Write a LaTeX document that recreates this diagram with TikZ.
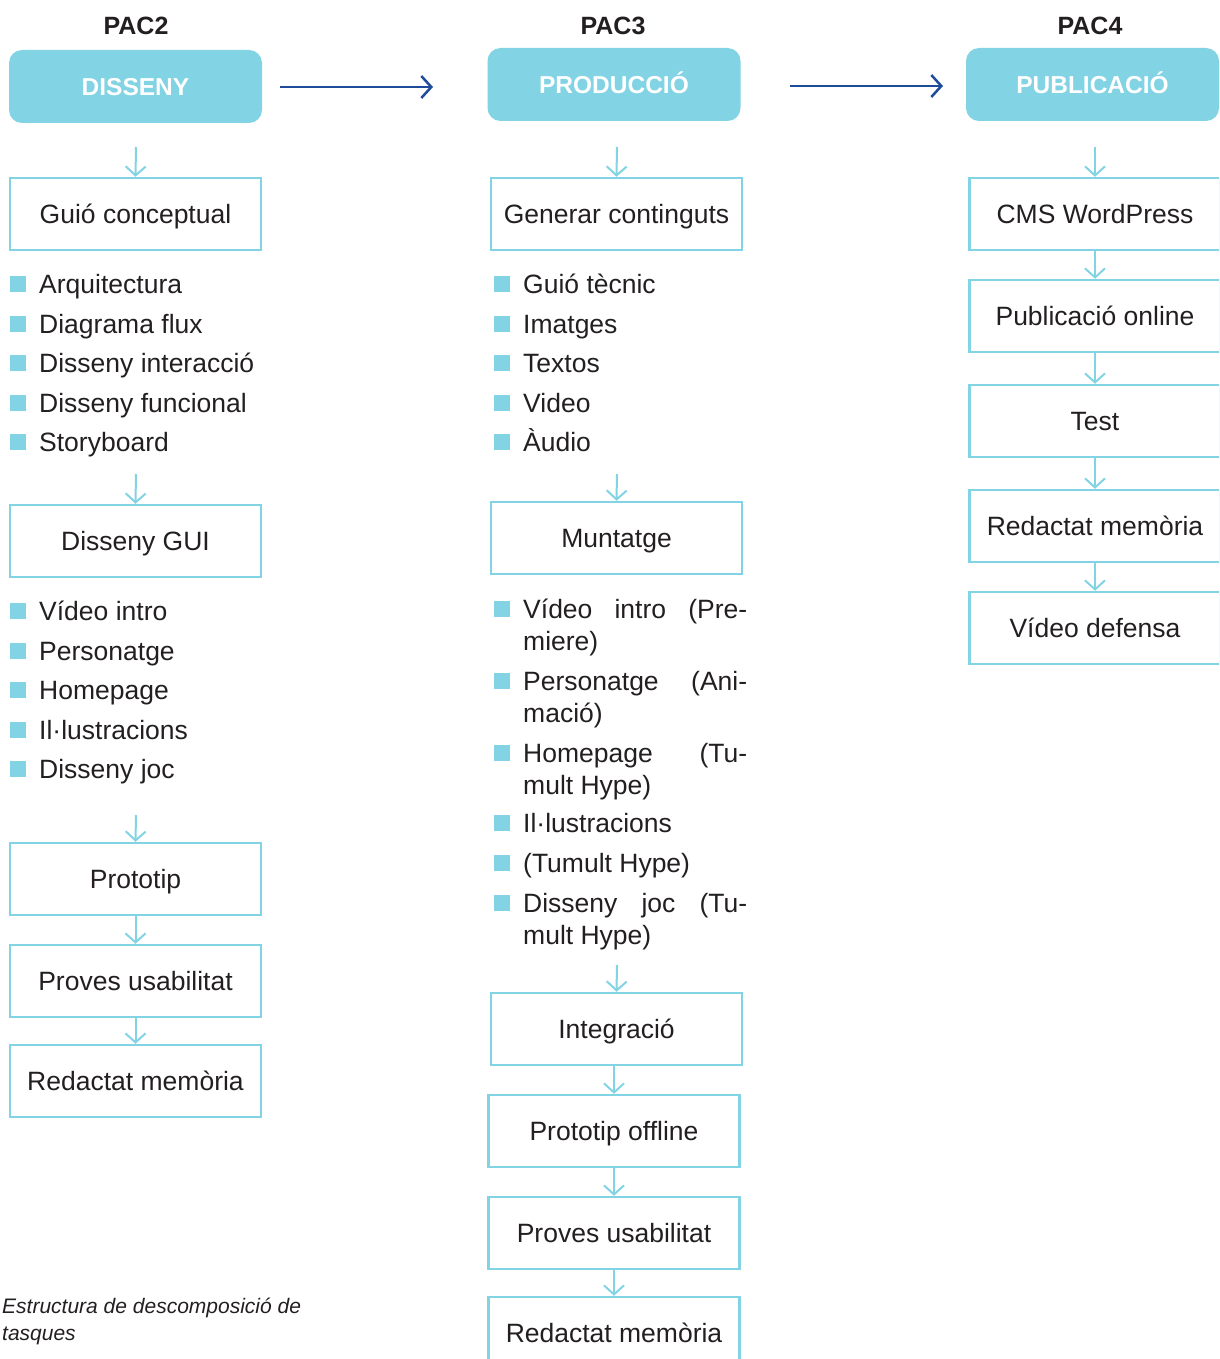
\documentclass[tikz,border=0pt]{standalone}
\usepackage{fontspec}
\setmainfont{Liberation Sans}
\usetikzlibrary{arrows.meta}
\definecolor{cy}{HTML}{82D3E3}
\definecolor{bl}{HTML}{1F4B9B}
\definecolor{tx}{HTML}{231F20}
\begin{document}
\begin{tikzpicture}[x=1pt,y=-1pt,
 title/.style={font=\fontsize{25}{30}\selectfont\bfseries, text=tx, inner sep=0pt, text height=18pt, text depth=0pt},
 phase/.style={fill=cy, rounded corners=13pt, minimum width=253pt, minimum height=73pt, text=white, font=\fontsize{24.5}{28}\selectfont\bfseries, inner sep=0pt, text height=17.5pt, text depth=0pt},
 task/.style={draw=cy, line width=2.5pt, minimum width=251pt, minimum height=72pt, text=tx, font=\fontsize{26.5}{30}\selectfont, inner sep=0pt, text height=19pt, text depth=0pt},
 flow/.style={draw=cy, line width=2pt, -{Straight Barb[length=9pt,width=20pt]}},
 big/.style={draw=bl, line width=2.5pt, -{Straight Barb[length=10pt,width=22pt]}},
 item/.style={anchor=west, text=tx, font=\fontsize{26.5}{30}\selectfont, inner sep=0pt, text height=19pt, text depth=0pt},
 bul/.style={fill=cy, minimum size=16pt, inner sep=0pt},
 captxt/.style={anchor=west, text=tx, font=\fontsize{21}{25}\selectfont\itshape, inner sep=0pt, text height=15pt, text depth=0pt},
]
\useasboundingbox (0,0) rectangle (1219,1359);
\clip (0,0) rectangle (1219,1359);

% headers
\node[title] (h2) at (136,25.5) {PAC2};
\node[title] (h3) at (613,25.5) {PAC3};
\node[title] (h4) at (1090,25.5) {PAC4};

% phases
\node[phase] (dis) at (135.5,86.5) {DISSENY};
\node[phase] (pro) at (614,84.5) {PRODUCCIÓ};
\node[phase] (pub) at (1092.5,84.5) {PUBLICACIÓ};

\coordinate (b1s) at (280,87);
\coordinate (b1e) at (433,87);
\coordinate (b2s) at (790,86);
\coordinate (b2e) at (943,86);
\draw[big] (b1s) -- (b1e);
\draw[big] (b2s) -- (b2e);

% ---------- column 1 ----------
\node[task] (gc) at (135.5,214) {Guió conceptual};
\foreach \t/\y [count=\i] in {Arquitectura/284,Diagrama flux/324,Disseny interacció/363,Disseny funcional/403,Storyboard/442}{
  \node[bul] (ba\i) at (18,\y) {};
  \node[item] (ia\i) at (39,\y) {\t};
}
\node[task] (gui) at (135.5,541) {Disseny GUI};
\foreach \t/\y [count=\i] in {Vídeo intro/611,Personatge/651,Homepage/690,Il·lustracions/730,Disseny joc/769}{
  \node[bul] (bb\i) at (18,\y) {};
  \node[item] (ib\i) at (39,\y) {\t};
}
\node[task] (pt) at (135.5,879) {Prototip};
\node[task] (pu1) at (135.5,981) {Proves usabilitat};
\node[task] (rm1) at (135.5,1081) {Redactat memòria};

\coordinate (c1a) at (136,147);
\coordinate (c1b) at (136,474);
\coordinate (c1c) at (136,815);
\draw[flow] (c1a) -- (gc.north);
\draw[flow] (c1b) -- (gui.north);
\draw[flow] (c1c) -- (pt.north);
\draw[flow] (pt.south) -- (pu1.north);
\draw[flow] (pu1.south) -- (rm1.north);

% ---------- column 2 ----------
\node[task] (gen) at (616.5,214) {Generar continguts};
\foreach \t/\y [count=\i] in {Guió tècnic/284,Imatges/324,Textos/363,Video/403,Àudio/442}{
  \node[bul] (bc\i) at (502,\y) {};
  \node[item] (ic\i) at (523,\y) {\t};
}
\node[task] (mun) at (616.5,538) {Muntatge};

\node[bul] (bd1) at (502,609) {};
\node[item] (id1a) at (523,609) {\makebox[224pt]{Vídeo\hfill intro\hfill (Pre-}};
\node[item] (id1b) at (523,641) {miere)};
\node[bul] (bd2) at (502,681) {};
\node[item] (id2a) at (523,681) {\makebox[224pt]{Personatge\hfill (Ani-}};
\node[item] (id2b) at (523,713) {mació)};
\node[bul] (bd3) at (502,753) {};
\node[item] (id3a) at (523,753) {\makebox[224pt]{Homepage\hfill (Tu-}};
\node[item] (id3b) at (523,785) {mult Hype)};
\node[bul] (bd4) at (502,823) {};
\node[item] (id4) at (523,823) {Il·lustracions};
\node[bul] (bd5) at (502,863) {};
\node[item] (id5) at (523,863) {(Tumult Hype)};
\node[bul] (bd6) at (502,903) {};
\node[item] (id6a) at (523,903) {\makebox[224pt]{Disseny\hfill joc\hfill (Tu-}};
\node[item] (id6b) at (523,935) {mult Hype)};

\node[task] (int) at (616.5,1029) {Integració};
\node[task] (po) at (614,1131) {Prototip offline};
\node[task] (pu2) at (614,1233) {Proves usabilitat};
\node[task] (rm2) at (614,1333) {Redactat memòria};

\coordinate (c2a) at (617,147);
\coordinate (c2b) at (617,474);
\coordinate (c2c) at (617,965);
\draw[flow] (c2a) -- (gen.north);
\draw[flow] (c2b) -- (mun.north);
\draw[flow] (c2c) -- (int.north);
\draw[flow] (int.south -| po.north) -- (po.north);
\draw[flow] (po.south) -- (pu2.north);
\draw[flow] (pu2.south) -- (rm2.north);

% ---------- column 3 ----------
\node[task] (cms) at (1095,214) {CMS WordPress};
\node[task] (pon) at (1095,316) {Publicació online};
\node[task] (tst) at (1095,421) {Test};
\node[task] (rm3) at (1095,526) {Redactat memòria};
\node[task] (vd) at (1095,628) {Vídeo defensa};

\coordinate (c3a) at (1095,147);
\draw[flow] (c3a) -- (cms.north);
\draw[flow] (cms.south) -- (pon.north);
\draw[flow] (pon.south) -- (tst.north);
\draw[flow] (tst.south) -- (rm3.north);
\draw[flow] (rm3.south) -- (vd.north);

% caption
\node[captxt] (cp1) at (2,1306) {Estructura de descomposició de};
\node[captxt] (cp2) at (2,1333) {tasques};
\end{tikzpicture}
\end{document}
